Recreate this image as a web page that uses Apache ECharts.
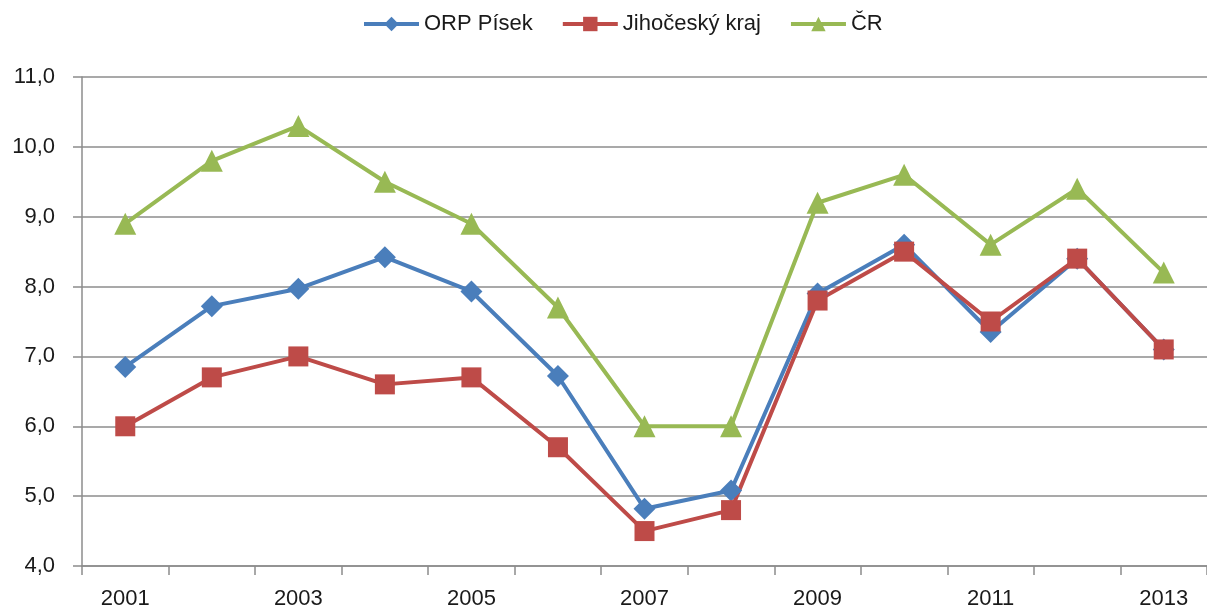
<!DOCTYPE html>
<html>
<head>
<meta charset="utf-8">
<script src="https://cdn.jsdelivr.net/npm/echarts@6/dist/echarts.min.js"></script>
<style>
  html, body { margin: 0; padding: 0; background: #fff; }
  #chart { width: 1207px; height: 610px; }
</style>
</head>
<body>
<div id="chart"></div>
<script>
// roky na ose x
const years = ['2001', '2002', '2003', '2004', '2005', '2006', '2007', '2008', '2009', '2010', '2011', '2012', '2013'];

// hodnoty
const orpPisek = [6.85, 7.72, 7.97, 8.42, 7.93, 6.72, 4.82, 5.08, 7.9, 8.6, 7.35, 8.4, 7.1];
const jihoceskyKraj = [6.0, 6.7, 7.0, 6.6, 6.7, 5.7, 4.5, 4.8, 7.8, 8.5, 7.5, 8.4, 7.1];
const cr = [8.9, 9.8, 10.3, 9.5, 8.9, 7.7, 6.0, 6.0, 9.2, 9.6, 8.6, 9.4, 8.2];

const FONT = "'Liberation Sans', sans-serif";
const AXIS_GRAY = '#8c8c8c';

const chart = echarts.init(document.getElementById('chart'));

const mkSeries = (name, data, color, symbol, size) => ({
  name,
  type: 'line',
  data,
  symbol,
  symbolSize: size,
  showSymbol: true,
  lineStyle: { color, width: 4 },
  itemStyle: { color },
  animation: false
});

chart.setOption({
  animation: false,
  legend: {
    top: 8,
    left: 357,
    itemWidth: 55,
    itemHeight: 18,
    itemGap: 28,
    lineStyle: { width: 4 },
    textStyle: { fontFamily: FONT, fontSize: 22, color: '#1a1a1a' },
    data: ['ORP Písek', 'Jihočeský kraj', 'ČR']
  },
  grid: { left: 82, right: -13, top: 77, bottom: 44 },
  xAxis: {
    type: 'category',
    data: years,
    boundaryGap: true,
    axisLine: { lineStyle: { color: AXIS_GRAY, width: 1.5 } },
    axisTick: { show: true, interval: 0, length: 9, lineStyle: { color: AXIS_GRAY, width: 1.5 } },
    axisLabel: {
      interval: 1,
      margin: 22,
      fontFamily: FONT,
      fontSize: 22,
      color: '#1a1a1a'
    }
  },
  yAxis: {
    type: 'value',
    min: 4,
    max: 11,
    interval: 1,
    axisLine: { show: true, lineStyle: { color: AXIS_GRAY, width: 1.5 } },
    axisTick: { show: true, length: 9, lineStyle: { color: AXIS_GRAY, width: 1.5 } },
    splitLine: { lineStyle: { color: AXIS_GRAY, width: 1.5 } },
    axisLabel: {
      margin: 27,
      fontFamily: FONT,
      fontSize: 22,
      color: '#1a1a1a',
      formatter: v => v.toFixed(1).replace('.', ',')
    }
  },
  series: [
    mkSeries('ORP Písek', orpPisek, '#4a7ebb', 'diamond', 22),
    mkSeries('Jihočeský kraj', jihoceskyKraj, '#be4b48', 'rect', 20),
    mkSeries('ČR', cr, '#98b954', 'triangle', 22)
  ]
});
</script>
</body>
</html>
